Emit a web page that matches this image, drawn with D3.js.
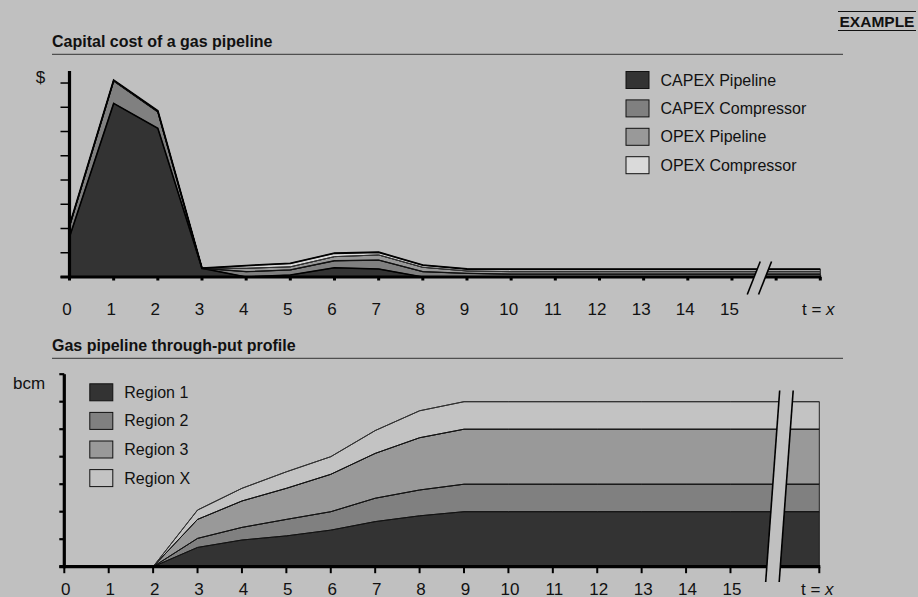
<!DOCTYPE html>
<html>
<head>
<meta charset="utf-8">
<script src="https://cdn.jsdelivr.net/npm/d3@7"></script>
<style>
  html, body { margin: 0; padding: 0; background: #c0c0c0; }
  svg { display: block; }
  text { font-family: "Liberation Sans", Arial, Helvetica, sans-serif; fill: #111; }
</style>
</head>
<body>
<svg id="chart" width="918" height="597"></svg>
<script>
// ---------------- DATA ----------------
const periods = [0,1,2,3,4,5,6,7,8,9,10,11,12,13,14,15,16,17];
const tickLabels = ["0","1","2","3","4","5","6","7","8","9","10","11","12","13","14","15"];
const endLabel = "t = x";

// Capital cost chart ($, arbitrary units)
const capexPipeline   = [1.65, 7.16, 6.13, 0.36, 0.00, 0.08, 0.38, 0.33, 0.00, 0.00, 0.00, 0.00, 0.00, 0.00, 0.00, 0.00, 0.00, 0.00];
const capexCompressor = [0.43, 0.92, 0.68, 0.00, 0.22, 0.21, 0.29, 0.37, 0.22, 0.15, 0.12, 0.12, 0.12, 0.12, 0.12, 0.12, 0.12, 0.12];
const opexPipeline    = [0.02, 0.02, 0.02, 0.00, 0.14, 0.13, 0.17, 0.21, 0.18, 0.10, 0.10, 0.10, 0.10, 0.10, 0.10, 0.10, 0.10, 0.10];
const opexCompressor  = [0.02, 0.02, 0.02, 0.00, 0.11, 0.14, 0.14, 0.11, 0.09, 0.08, 0.10, 0.10, 0.10, 0.10, 0.10, 0.10, 0.10, 0.10];
const costSeries = ["CAPEX Pipeline", "CAPEX Compressor", "OPEX Pipeline", "OPEX Compressor"];
const costColors = ["#333333", "#808080", "#999999", "#dadada"];

// Through-put chart (bcm)
const region1 = [0, 0, 0, 0.70, 0.97, 1.12, 1.33, 1.64, 1.85, 2.00, 2.00, 2.00, 2.00, 2.00, 2.00, 2.00, 2.00, 2.00];
const region2 = [0, 0, 0, 0.33, 0.46, 0.60, 0.67, 0.85, 0.94, 1.00, 1.00, 1.00, 1.00, 1.00, 1.00, 1.00, 1.00, 1.00];
const region3 = [0, 0, 0, 0.69, 0.96, 1.13, 1.36, 1.63, 1.90, 2.00, 2.00, 2.00, 2.00, 2.00, 2.00, 2.00, 2.00, 2.00];
const regionX = [0, 0, 0, 0.34, 0.46, 0.60, 0.64, 0.83, 0.98, 1.00, 1.00, 1.00, 1.00, 1.00, 1.00, 1.00, 1.00, 1.00];
const regionSeries = ["Region 1", "Region 2", "Region 3", "Region X"];
const regionColors = ["#333333", "#808080", "#999999", "#c3c3c3"];

const costTicks = [0,1,2,3,4,5,6,7,8];
const flowTicks = [0,1,2,3,4,5,6,7];

// ---------------- DRAW ----------------
const BG = "#c0c0c0";
const svg = d3.select("#chart");
svg.append("rect").attr("width", 918).attr("height", 597).attr("fill", BG);

// "EXAMPLE" stamp
svg.append("text").attr("x", 877).attr("y", 27).attr("text-anchor", "middle")
  .style("font-weight", "bold").style("font-size", "15.5px").text("EXAMPLE");
svg.append("line").attr("x1", 838).attr("x2", 916).attr("y1", 11.5).attr("y2", 11.5).attr("stroke", "#111").attr("stroke-width", 1);
svg.append("line").attr("x1", 838).attr("x2", 916).attr("y1", 30.5).attr("y2", 30.5).attr("stroke", "#111").attr("stroke-width", 1);

function title(txt, y) {
  svg.append("text").attr("x", 52).attr("y", y).style("font-weight", "bold")
    .style("font-size", "16px").text(txt);
  svg.append("line").attr("x1", 52).attr("x2", 843).attr("y1", y + 7.8).attr("y2", y + 7.8)
    .attr("stroke", "#333").attr("stroke-width", 1);
}
title("Capital cost of a gas pipeline", 46.5);
title("Gas pipeline through-put profile", 350.5);

function buildChart(cfg) {
  const g = svg.append("g");
  const x = d3.scaleLinear().domain([0, 17]).range([cfg.x0, cfg.x1]);
  const y = d3.scaleLinear().domain([0, cfg.yMax]).range([cfg.yBase, cfg.yTop]);

  const rows = periods.map((p, i) => {
    const r = { p };
    cfg.keys.forEach((k, j) => r[k] = cfg.values[j][i]);
    return r;
  });
  const stacked = d3.stack().keys(cfg.keys)(rows);

  const area = d3.area().x(d => x(d.data.p)).y0(d => y(d[0])).y1(d => y(d[1]));
  const topLine = d3.line().x(d => x(d.data.p)).y(d => y(d[1]));

  g.selectAll("path.area").data(stacked).join("path")
    .attr("class", "area")
    .attr("d", area)
    .attr("fill", (d, i) => cfg.colors[i])
    .attr("stroke", cfg.edgeColor)
    .attr("stroke-width", cfg.edgeWidth)
    .attr("stroke-linejoin", "miter");
  g.selectAll("path.top").data(stacked).join("path")
    .attr("class", "top")
    .attr("d", topLine)
    .attr("fill", "none")
    .attr("stroke", (d, i) => cfg.lineColors[i])
    .attr("stroke-width", (d, i) => cfg.lineWidths[i]);

  // x baseline
  g.append("line").attr("x1", cfg.x0 - cfg.yTickLen).attr("x2", x(17) + 1)
    .attr("y1", cfg.yBase).attr("y2", cfg.yBase)
    .attr("stroke", "#000").attr("stroke-width", cfg.baseWidth);
  // x ticks
  g.selectAll("line.xt").data(periods).join("line")
    .attr("class", "xt")
    .attr("x1", d => x(d)).attr("x2", d => x(d))
    .attr("y1", cfg.yBase).attr("y2", cfg.yBase + cfg.xTickLen)
    .attr("stroke", "#000").attr("stroke-width", cfg.xTickWidth);

  // axis break
  const bx = x(cfg.breakAt);
  const gap = cfg.breakGap, slant = cfg.breakSlant;
  const yb1 = cfg.breakTop, yb2 = cfg.breakBottom;
  const t = (cfg.yBase - yb1) / (yb2 - yb1);
  const topX = bx + slant * t;
  const botX = topX - slant;
  g.append("path")
    .attr("d", `M${topX - gap/2},${yb1} L${topX + gap/2},${yb1} L${botX + gap/2},${yb2} L${botX - gap/2},${yb2} Z`)
    .attr("fill", BG);
  [-gap/2, gap/2].forEach(o => {
    g.append("line").attr("x1", topX + o).attr("y1", yb1).attr("x2", botX + o).attr("y2", yb2)
      .attr("stroke", "#000").attr("stroke-width", 1.6);
  });

  // y axis
  g.append("line").attr("x1", cfg.x0).attr("x2", cfg.x0)
    .attr("y1", y(cfg.yMax)).attr("y2", cfg.yBase + 1.5)
    .attr("stroke", "#000").attr("stroke-width", cfg.axisWidth);
  g.selectAll("line.yt").data(cfg.yTicks).join("line")
    .attr("class", "yt")
    .attr("x1", cfg.x0 - cfg.yTickLen).attr("x2", cfg.x0)
    .attr("y1", d => y(d)).attr("y2", d => y(d))
    .attr("stroke", "#000").attr("stroke-width", cfg.yTickWidth);

  // tick labels
  g.selectAll("text.xl").data(tickLabels).join("text")
    .attr("class", "xl")
    .attr("x", (d, i) => x(i) + cfg.labelShift)
    .attr("y", cfg.labelY)
    .attr("text-anchor", "middle")
    .style("font-size", "17px")
    .text(d => d);
  const tl = g.append("text").attr("x", x(17) - 2).attr("y", cfg.labelY)
    .attr("text-anchor", "middle").style("font-size", "17px");
  tl.append("tspan").text("t = ");
  tl.append("tspan").style("font-style", "italic").text("x");

  // unit label
  g.append("text").attr("x", cfg.unitX).attr("y", cfg.unitY).attr("text-anchor", "middle")
    .style("font-size", "17px").text(cfg.unit);

  // legend
  const lg = g.selectAll("g.leg").data(cfg.keys).join("g")
    .attr("class", "leg")
    .attr("transform", (d, i) => `translate(${cfg.legX},${cfg.legY + i * cfg.legStep})`);
  lg.append("rect").attr("x", 0.5).attr("y", 0.5).attr("width", 23).attr("height", 17)
    .attr("fill", (d, i) => cfg.colors[i]).attr("stroke", "#111").attr("stroke-width", 1);
  lg.append("text").attr("x", 35).attr("y", 14.6).style("font-size", "16px").text(d => d);
}

buildChart({
  keys: costSeries,
  values: [capexPipeline, capexCompressor, opexPipeline, opexCompressor],
  colors: costColors,
  edgeColor: "#222", edgeWidth: 1,
  lineColors: ["#000", "#111", "#333", "#000"],
  lineWidths: [1.6, 1.3, 1, 1.8],
  x0: 69.5, x1: 820.3,
  yBase: 277, yTop: 70.9, yMax: 8.5,
  yTicks: costTicks,
  yTickLen: 9, yTickWidth: 1.5, axisWidth: 3.2,
  baseWidth: 3, xTickLen: 3.5, xTickWidth: 3,
  breakAt: 15.63, breakGap: 11.3, breakSlant: 13, breakTop: 261.5, breakBottom: 294.5,
  labelY: 315, labelShift: -2.5,
  unit: "$", unitX: 40.5, unitY: 82.5,
  legX: 625.5, legY: 71, legStep: 28.4
});

buildChart({
  keys: regionSeries,
  values: [region1, region2, region3, regionX],
  colors: regionColors,
  edgeColor: "#222", edgeWidth: 1,
  lineColors: ["#111", "#111", "#111", "#333"],
  lineWidths: [1, 1, 1, 1],
  x0: 64.3, x1: 819.3,
  yBase: 566.7, yTop: 374.2, yMax: 7,
  yTicks: flowTicks,
  yTickLen: 5, yTickWidth: 2.2, axisWidth: 3.2,
  baseWidth: 3.2, xTickLen: 6.5, xTickWidth: 2,
  breakAt: 15.97, breakGap: 13.5, breakSlant: 14, breakTop: 390.5, breakBottom: 582,
  labelY: 594.5, labelShift: 1.5,
  unit: "bcm", unitX: 29, unitY: 389,
  legX: 89.3, legY: 383.3, legStep: 28.6
});
</script>
</body>
</html>
